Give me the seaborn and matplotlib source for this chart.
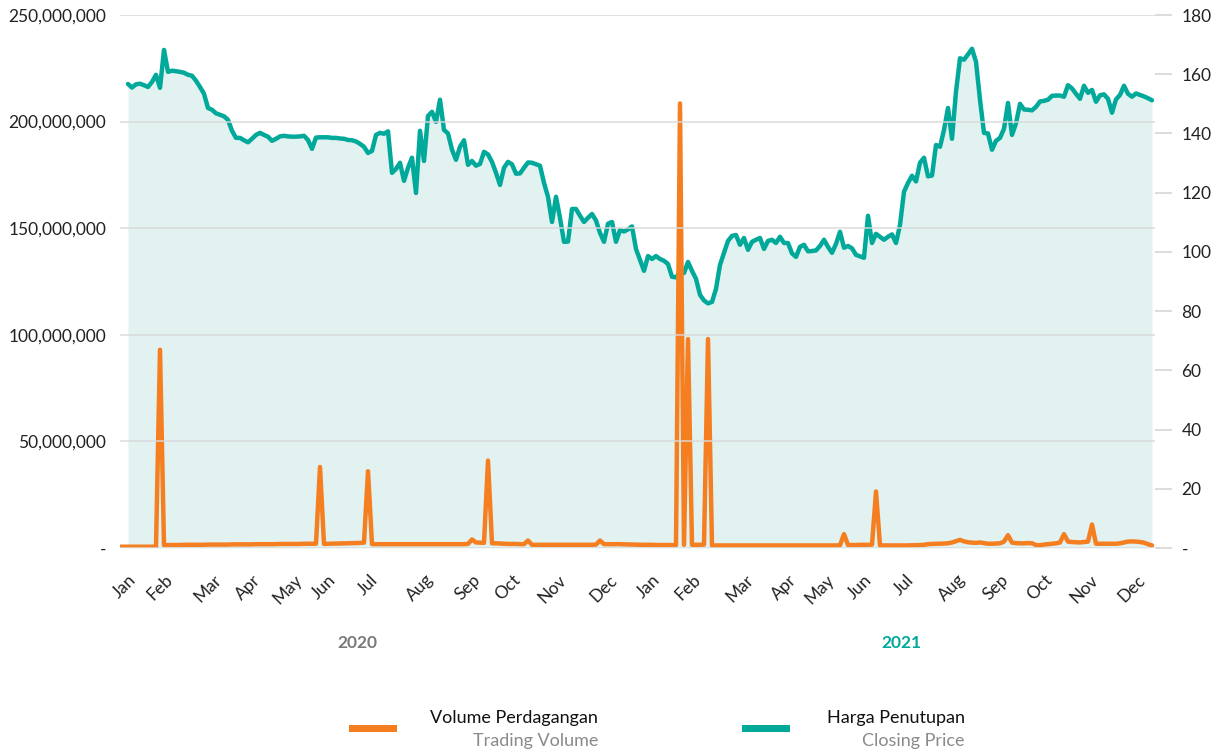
import matplotlib
matplotlib.use("Agg")
import matplotlib.pyplot as plt
from matplotlib.patches import Rectangle
from matplotlib.ticker import FuncFormatter, MultipleLocator
import numpy as np
import pandas as pd
import seaborn as sns

nan = np.nan

# month labels and the observation where each label sits
months = ["Jan", "Feb", "Mar", "Apr", "May", "Jun",
          "Jul", "Aug", "Sep", "Oct", "Nov", "Dec"]
years = ["2020", "2021"]
month_tick_obs = [1, 10, 22, 32, 42, 51, 62, 75, 87, 97, 108, 121,
                  132, 142, 155, 166, 175, 185, 196, 208, 219, 230, 241, 253]

# trading volume, in millions of shares
volume_mn = [
    0.6, 0.6, 0.6, 0.6, 0.6, 0.6, 0.6, 0.6, 0.6, 0.6,
    93.0, 1.4, 1.4, 1.4, 1.4, 1.4, 1.5, 1.5, 1.5, 1.5,
    1.5, 1.5, 1.6, 1.6, 1.6, 1.6, 1.6, 1.6, 1.7, 1.7,
    1.7, 1.7, 1.7, 1.7, 1.8, 1.8, 1.8, 1.8, 1.8, 1.8,
    1.9, 1.9, 1.9, 1.9, 1.9, 1.9, 2.0, 2.0, 2.0, 2.0,
    38.0, 1.9, 2.0, 2.0, 2.1, 2.1, 2.2, 2.2, 2.3, 2.3,
    2.4, 2.5, 36.0, 1.8, 1.8, 1.8, 1.8, 1.8, 1.8, 1.8,
    1.8, 1.8, 1.8, 1.8, 1.8, 1.8, 1.8, 1.8, 1.8, 1.8,
    1.8, 1.8, 1.8, 1.8, 1.8, 1.8, 1.8, 1.9, 4.0, 2.6,
    2.5, 2.4, 41.0, 2.2, 2.2, 2.1, 2.0, 1.9, 1.9, 1.9,
    1.8, 1.8, 3.5, 1.5, 1.5, 1.5, 1.5, 1.5, 1.5, 1.5,
    1.5, 1.5, 1.5, 1.5, 1.5, 1.5, 1.5, 1.5, 1.5, 1.6,
    3.5, 1.8, 1.8, 1.8, 1.8, 1.8, 1.7, 1.7, 1.6, 1.6,
    1.5, 1.5, 1.5, 1.5, 1.4, 1.4, 1.4, 1.4, 1.4, 1.4,
    208.5, 1.5, 98.0, 1.5, 1.5, 1.5, 1.6, 98.0, 1.2, 1.2,
    1.2, 1.2, 1.2, 1.2, 1.2, 1.2, 1.2, 1.2, 1.2, 1.2,
    1.2, 1.2, 1.2, 1.2, 1.2, 1.2, 1.2, 1.2, 1.2, 1.2,
    1.2, 1.2, 1.2, 1.2, 1.2, 1.2, 1.2, 1.2, 1.2, 1.2,
    1.3, 6.5, 1.4, 1.4, 1.4, 1.5, 1.5, 1.5, 1.6, 26.5,
    1.2, 1.2, 1.2, 1.2, 1.2, 1.2, 1.2, 1.2, 1.3, 1.3,
    1.4, 1.5, 1.8, 1.9, 2.0, 2.0, 2.1, 2.2, 2.6, 3.2,
    3.8, 3.1, 2.7, 2.5, 2.4, 2.6, 2.3, 2.0, 2.0, 2.1,
    2.2, 3.0, 6.0, 2.5, 2.3, 2.2, 2.2, 2.3, 2.2, 1.4,
    1.3, 1.6, 1.8, 2.0, 2.2, 2.6, 6.5, 3.0, 2.8, 2.7,
    2.6, 2.8, 3.0, 11.0, 2.0, 2.0, 2.0, 2.0, 2.0, 2.0,
    2.2, 2.6, 3.0, 3.1, 3.0, 2.8, 2.5, 1.8, 1.2,
]

# closing price
closing_price = [
    nan, nan, 156.7, 155.5, 156.6, 156.8, 156.3, 155.7, 157.4, 159.8,
    155.4, 168.2, 160.8, 161.2, 161.0, 160.8, 160.5, 159.8, 159.5, 157.8,
    155.7, 153.4, 148.6, 148.0, 146.8, 146.3, 145.8, 144.6, 140.9, 138.5,
    138.5, 137.7, 137.0, 138.2, 139.5, 140.2, 139.5, 138.9, 137.5, 138.2,
    139.0, 139.2, 139.0, 138.9, 138.9, 139.0, 139.2, 137.8, 134.8, 138.6,
    138.7, 138.7, 138.7, 138.5, 138.5, 138.3, 138.2, 137.8, 137.7, 137.3,
    136.5, 135.5, 133.4, 134.1, 139.5, 140.2, 139.9, 140.7, 126.7, 128.0,
    130.1, 124.0, 128.4, 131.8, 119.9, 140.9, 130.7, 145.9, 147.3, 143.9,
    151.4, 141.2, 140.0, 134.5, 131.1, 135.5, 137.7, 129.4, 130.7, 129.1,
    129.7, 133.8, 132.9, 130.4, 126.7, 122.6, 128.4, 130.4, 129.6, 126.4,
    126.5, 128.4, 130.2, 130.1, 129.6, 129.1, 123.3, 118.6, 110.1, 118.6,
    111.5, 103.4, 103.5, 114.5, 114.5, 112.2, 110.1, 111.5, 112.8, 110.6,
    106.4, 103.4, 109.5, 110.1, 103.4, 107.4, 106.9, 107.6, 108.6, 101.0,
    97.3, 93.6, 98.6, 97.6, 98.6, 97.6, 97.0, 95.9, 91.6, 91.4,
    93.2, 92.9, 96.6, 93.6, 90.9, 85.5, 83.6, 82.6, 83.1, 87.5,
    95.6, 99.7, 103.7, 105.4, 105.7, 102.4, 104.7, 100.7, 103.4, 104.1,
    104.7, 101.0, 103.7, 104.1, 103.0, 105.1, 103.0, 103.0, 99.5, 98.3,
    101.7, 102.4, 100.2, 100.3, 100.5, 102.0, 104.1, 101.7, 99.7, 102.7,
    106.8, 101.4, 102.0, 101.2, 99.0, 98.5, 98.0, 112.2, 103.0, 106.1,
    105.1, 104.1, 105.1, 105.9, 103.0, 109.1, 120.3, 123.3, 125.7, 123.8,
    130.1, 131.8, 125.5, 125.8, 136.1, 135.5, 141.2, 148.6, 138.2, 154.1,
    165.4, 164.9, 166.7, 168.6, 164.2, 151.4, 140.2, 140.0, 134.5, 137.5,
    138.5, 141.6, 150.3, 139.5, 143.4, 150.0, 148.1, 148.0, 147.8, 149.0,
    150.8, 151.0, 151.4, 152.7, 152.8, 152.8, 152.4, 156.3, 155.2, 153.4,
    151.7, 156.1, 153.7, 154.7, 150.7, 152.9, 153.2, 151.7, 147.0, 151.5,
    153.0, 156.1, 153.4, 152.4, 153.5, 153.0, 152.5, 151.9, 151.2,
]

ORANGE = "#f47e20"
TEAL = "#00a99a"
FILL = "#e2f2f0"
GRID = "#d9d9d9"
TEXT = "#222222"

df = pd.DataFrame({"obs": np.arange(len(volume_mn)),
                   "volume": volume_mn,
                   "price": closing_price})
price_df = df.dropna(subset=["price"])

sns.set_theme(style="white")
plt.rcParams["font.family"] = ["Lato", "DejaVu Sans"]

fig = plt.figure(figsize=(12.11, 7.51), dpi=100)
W, H = 1211, 751
ax = fig.add_axes([120 / W, 1 - 548 / H, 1035 / W, 533 / H])
ax2 = ax.twinx()

# price: shaded area + line on the right axis
ax2.fill_between(price_df["obs"], 0, price_df["price"], color=FILL, lw=0)
sns.lineplot(data=price_df, x="obs", y="price", ax=ax2, color=TEAL,
             linewidth=3.2, legend=False)

# volume on the left axis, drawn on top
sns.lineplot(data=df, x="obs", y="volume", ax=ax, color=ORANGE,
             linewidth=3.2, legend=False)
ax.set_zorder(ax2.get_zorder() + 1)
ax.patch.set_visible(False)

ax.set_xlim(0, len(volume_mn) - 0.25)
ax.set_ylim(0, 250)
ax2.set_ylim(0, 180)

ax.yaxis.set_major_locator(MultipleLocator(50))
ax.yaxis.set_major_formatter(FuncFormatter(
    lambda v, _: "-" if v == 0 else f"{v * 1_000_000:,.0f}"))
ax2.yaxis.set_major_locator(MultipleLocator(20))
ax2.yaxis.set_major_formatter(FuncFormatter(
    lambda v, _: "-" if v == 0 else f"{v:.0f}"))

ax.grid(axis="y", color=GRID, linewidth=1.3, alpha=0.8)
ax.grid(axis="x", visible=False)
ax2.grid(False)
ax.set_axisbelow(False)

ax.set_xticks(month_tick_obs)
ax.set_xticklabels(months * len(years))
for lab in ax.get_xticklabels():
    lab.set_rotation(45)
    lab.set_ha("center")

ax.tick_params(axis="x", length=0, pad=17, labelsize=12.5, labelcolor=TEXT)
ax.tick_params(axis="y", length=0, pad=10, labelsize=12.5, labelcolor=TEXT)
ax2.tick_params(axis="y", length=12, width=1.3, color=GRID, pad=7,
                labelsize=12.5, labelcolor=TEXT)

for a in (ax, ax2):
    for s in a.spines.values():
        s.set_visible(False)
ax.set_xlabel("")
ax.set_ylabel("")
ax2.set_ylabel("")

# year captions under the month labels
fig.text(357 / W, 1 - 643 / H, years[0], ha="center", va="center",
         fontsize=12.5, fontweight="bold", color="#7a7a7a")
fig.text(901 / W, 1 - 643 / H, years[1], ha="center", va="center",
         fontsize=12.5, fontweight="bold", color=TEAL)

# legend
legend_items = [
    (ORANGE, "Volume Perdagangan", "Trading Volume", 349, 598),
    (TEAL, "Harga Penutupan", "Closing Price", 742, 965),
]
for color, main, sub, x0, xr in legend_items:
    fig.add_artist(Rectangle((x0 / W, 1 - 732 / H), 48 / W, 7 / H,
                             transform=fig.transFigure, color=color, lw=0))
    fig.text(xr / W, 1 - 718 / H, main, ha="right", va="center",
             fontsize=13, color="#111111")
    fig.text(xr / W, 1 - 741 / H, sub, ha="right", va="center",
             fontsize=13, color="#8a8a8a")

fig.savefig("out.png", dpi=100)
